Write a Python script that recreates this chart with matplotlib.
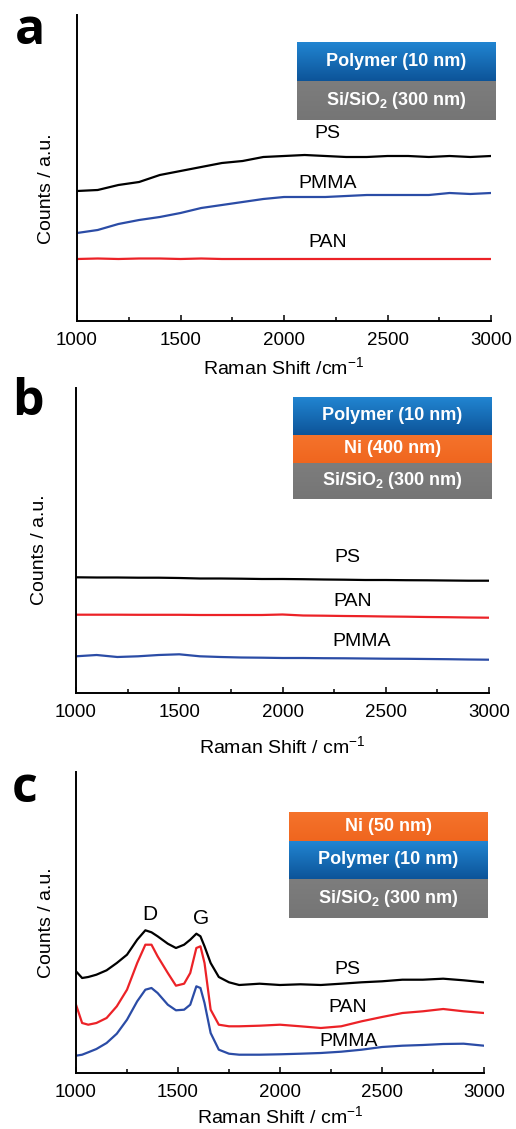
import numpy as np
import matplotlib
matplotlib.use('Agg')
import matplotlib.pyplot as plt
from matplotlib.ticker import MultipleLocator

plt.rcParams['font.family'] = ['Liberation Sans', 'DejaVu Sans']
plt.rcParams['mathtext.fontset'] = 'custom'
plt.rcParams['mathtext.rm'] = 'Liberation Sans'
plt.rcParams['mathtext.bf'] = 'Liberation Sans:bold'
plt.rcParams['mathtext.it'] = 'Liberation Sans:italic'

# ---- data (arbitrary counts) ----
x_ab = [1000, 1100, 1200, 1300, 1400, 1500, 1600, 1700, 1800, 1900, 2000,
        2100, 2200, 2300, 2400, 2500, 2600, 2700, 2800, 2900, 3000]

ps_a = [130, 131, 136, 139, 146, 150, 154, 158, 160, 164, 165,
        166, 165, 164, 164, 165, 165, 164, 165, 164, 165]
pmma_a = [88, 91, 97, 101, 104, 108, 113, 116, 119, 122, 124,
          124, 124, 125, 126, 126, 126, 126, 128, 127, 128]
pan_a = [62, 62.5, 62, 62.5, 62.5, 62, 62.5, 62, 62, 62, 62,
         62, 62, 62, 62, 62, 62, 62, 62, 62, 62]

ps_b = [115.7, 115.5, 115.5, 115.3, 115.3, 115, 114.5, 114.5, 114.3, 114, 114,
        113.8, 113.5, 113.3, 113, 113, 112.8, 112.7, 112.5, 112.3, 112.3]
pan_b = [78.3, 78.3, 78.3, 78.2, 78.2, 78.2, 78, 78, 78, 78, 78.5,
         77.5, 77.3, 77, 76.8, 76.5, 76.3, 76, 75.8, 75.5, 75.3]
pmma_b = [36.7, 38, 36, 36.7, 38, 38.7, 36.7, 36, 35.5, 35.3, 35,
          35, 34.8, 34.7, 34.5, 34.3, 34.2, 34, 33.8, 33.5, 33.3]

x_c = [1000, 1030, 1060, 1100, 1150, 1200, 1250, 1300, 1340, 1370, 1400,
       1450, 1490, 1530, 1560, 1590, 1610, 1630, 1660, 1700, 1750, 1800,
       1900, 2000, 2100, 2200, 2300, 2400, 2500, 2600, 2700, 2800, 2900, 3000]
ps_c = [101.7, 95, 96, 98.3, 102.7, 110, 118.3, 133.3, 142.7, 140.7, 136.7,
        129.3, 125, 128.3, 133.3, 139.3, 136.7, 126.7, 110, 96, 90.7, 88,
        89.3, 88, 88.7, 88, 89.3, 90.7, 91.7, 93.3, 93.3, 94.3, 92.7, 90.7]
pan_c = [68.3, 50, 48.3, 50, 55, 66.7, 83.3, 110, 128.3, 128.3, 116.7,
         100, 87.3, 89.3, 100, 125, 126.7, 110, 63.3, 48.3, 46.7, 46.7,
         47.3, 48.3, 46.7, 45, 46.7, 51.7, 56, 60, 61.7, 64, 61.7, 60]
pmma_c = [17.3, 18.3, 20.7, 24, 30, 39.3, 53.3, 71.7, 83.3, 85, 80,
          68.3, 62.7, 63.3, 68.3, 86.7, 85, 70, 40, 23.3, 19.3, 18.3,
          18.3, 18.7, 19.3, 20, 21.3, 23.3, 26, 27.3, 28, 29, 29.3, 27.3]

layers_a = ['Polymer (10 nm)', 'Si/SiO$_\\mathbf{2}$ (300 nm)']
layers_b = ['Polymer (10 nm)', 'Ni (400 nm)', 'Si/SiO$_\\mathbf{2}$ (300 nm)']
layers_c = ['Ni (50 nm)', 'Polymer (10 nm)', 'Si/SiO$_\\mathbf{2}$ (300 nm)']

BLACK, RED, BLUE = 'black', '#ec2227', '#2b4ca6'
W, H = 516, 1129

fig = plt.figure(figsize=(W / 100, H / 100), dpi=100)


def px_axes(left, right, top, bottom, **kw):
    return fig.add_axes([left / W, 1 - bottom / H, (right - left) / W, (bottom - top) / H], **kw)


def panel(left, right, top, bottom, xlabel, xlabpad, ylab_xy, letter, letter_xy):
    ax = px_axes(left, right, top, bottom)
    ax.set_xlim(1000, 3000)
    ax.set_ylim(0, bottom - top)
    for s in ['top', 'right']:
        ax.spines[s].set_visible(False)
    for s in ['left', 'bottom']:
        ax.spines[s].set_linewidth(1.4)
    ax.set_yticks([])
    ax.xaxis.set_major_locator(MultipleLocator(500))
    ax.xaxis.set_minor_locator(MultipleLocator(250))
    ax.tick_params(axis='x', which='major', direction='in', length=4.5, width=1.1,
                   labelsize=13.5, pad=8)
    ax.tick_params(axis='x', which='minor', direction='in', length=3, width=1.1)
    ax.set_xlabel(xlabel, fontsize=14, labelpad=xlabpad)
    ax.set_ylabel('Counts / a.u.', fontsize=14)
    ax.yaxis.set_label_coords(*ylab_xy)
    fig.text(letter_xy[0] / W, 1 - letter_xy[1] / H, letter, fontsize=36,
             fontweight='bold', family=['Open Sans', 'DejaVu Sans'],
             ha='center', va='center')
    return ax


def stack(left, right, edges, labels, colors):
    for (t, b), lab, col in zip(zip(edges[:-1], edges[1:]), labels, colors):
        a = px_axes(left, right, t, b)
        a.set_axis_off()
        if col == 'blue':
            top_c = np.array([0.13, 0.52, 0.82])
            bot_c = np.array([0.05, 0.33, 0.60])
        elif col == 'orange':
            top_c = np.array([0.96, 0.45, 0.17])
            bot_c = np.array([0.94, 0.40, 0.12])
        else:
            top_c = np.array([0.49, 0.49, 0.49])
            bot_c = np.array([0.46, 0.46, 0.46])
        g = np.linspace(0, 1, 50)[:, None, None]
        img = top_c * (1 - g) + bot_c * g
        a.imshow(img, aspect='auto', extent=[0, 1, 0, 1])
        a.set_xlim(0, 1)
        a.set_ylim(0, 1)
        a.text(0.5, 0.5, lab, color='white', fontsize=13, fontweight='bold',
               ha='center', va='center')


# ---- panel a ----
ax = panel(77, 491, 15, 321, 'Raman Shift /cm$^{-1}$', 5, (-0.053, 0.431), 'a', (30, 31))
ax.plot(x_ab, ps_a, color=BLACK, lw=1.6)
ax.plot(x_ab, pmma_a, color=BLUE, lw=1.6)
ax.plot(x_ab, pan_a, color=RED, lw=1.6)
ax.text(2208, 188, 'PS', fontsize=14, ha='center', va='center')
ax.text(2212, 138, 'PMMA', fontsize=14, ha='center', va='center')
ax.text(2212, 79, 'PAN', fontsize=14, ha='center', va='center')
stack(297, 496, [42, 81, 120], layers_a, ['blue', 'gray'])

# ---- panel b ----
ax = panel(76, 489, 388, 693, 'Raman Shift / cm$^{-1}$', 10, (-0.068, 0.469), 'b', (28, 402))
ax.plot(x_ab, ps_b, color=BLACK, lw=1.6)
ax.plot(x_ab, pan_b, color=RED, lw=1.6)
ax.plot(x_ab, pmma_b, color=BLUE, lw=1.6)
ax.text(2312, 135, 'PS', fontsize=14, ha='center', va='center')
ax.text(2341, 92, 'PAN', fontsize=14, ha='center', va='center')
ax.text(2385, 51, 'PMMA', fontsize=14, ha='center', va='center')
stack(293, 492, [397, 435, 463, 499], layers_b, ['blue', 'orange', 'gray'])

# ---- panel c ----
ax = panel(76, 484, 772, 1073, 'Raman Shift / cm$^{-1}$', 3, (-0.051, 0.498), 'c', (25, 789))
ax.plot(x_c, ps_c, color=BLACK, lw=1.6)
ax.plot(x_c, pan_c, color=RED, lw=1.6)
ax.plot(x_c, pmma_c, color=BLUE, lw=1.6)
ax.text(1363, 158, 'D', fontsize=15, ha='center', va='center')
ax.text(1613, 155, 'G', fontsize=15, ha='center', va='center')
ax.text(2328, 103, 'PS', fontsize=14, ha='center', va='center')
ax.text(2333, 66, 'PAN', fontsize=14, ha='center', va='center')
ax.text(2338, 31, 'PMMA', fontsize=14, ha='center', va='center')
stack(289, 488, [812, 841, 879, 918], layers_c, ['orange', 'blue', 'gray'])

fig.savefig('out.png', dpi=100)
